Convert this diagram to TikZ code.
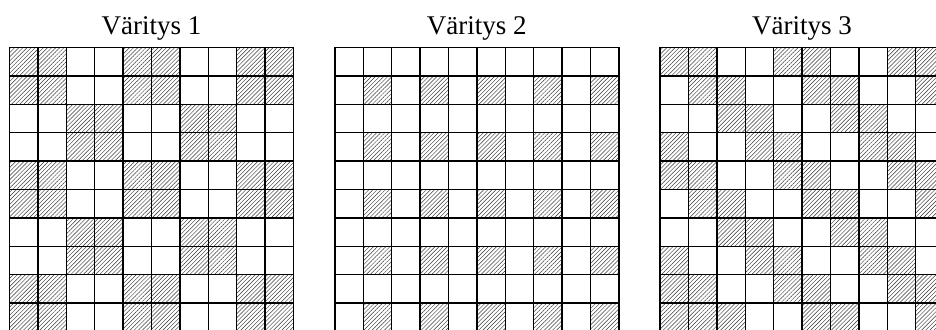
\documentclass[tikz,border=0pt]{standalone}
\usepackage{fontspec}
\setmainfont{Liberation Serif}
\usetikzlibrary{patterns.meta}
\begin{document}
\begin{tikzpicture}[x=1pt,y=-1pt,
  hatch/.style={pattern={Lines[angle=45,distance=2.9pt,line width=0.45pt]},pattern color=black!80},
  gridline/.style={line width=1.4pt,black},
  title/.style={anchor=base,inner sep=0pt,font=\fontsize{27}{30}\selectfont}]
\useasboundingbox (0,0) rectangle (936,329);
\clip (0,0) rectangle (936,329);
\def\cs{28.4}
\def\T{47.5}
\def\La{9.5}
\def\Lb{334.8}
\def\Lc{660.1}
% hatched cells
\foreach \r in {0,...,9}{
  \foreach \c in {0,...,9}{
    \pgfmathtruncatemacro{\ha}{mod(floor(\r/2)+floor(\c/2),2)==0}
    \pgfmathtruncatemacro{\hb}{and(mod(\r,2)==1,mod(\c,2)==1)}
    \pgfmathtruncatemacro{\hc}{mod(\c-\r+8,4)<2}
    \ifnum\ha=1 \fill[hatch] ({\La+\c*\cs},{\T+\r*\cs}) rectangle ++(\cs,\cs); \fi
    \ifnum\hb=1 \fill[hatch] ({\Lb+\c*\cs},{\T+\r*\cs}) rectangle ++(\cs,\cs); \fi
    \ifnum\hc=1 \fill[hatch] ({\Lc+\c*\cs},{\T+\r*\cs}) rectangle ++(\cs,\cs); \fi
  }
}
% grid lines
\foreach \L in {\La,\Lb,\Lc}{
  \foreach \i in {0,...,10}{
    \draw[gridline] ({\L+\i*\cs},\T) -- ({\L+\i*\cs},{\T+10*\cs});
    \draw[gridline] (\L,{\T+\i*\cs}) -- ({\L+10*\cs},{\T+\i*\cs});
  }
}
% titles
\node[title] (t1) at ({\La+5*\cs},35) {Väritys 1};
\node[title] (t2) at ({\Lb+5*\cs},35) {Väritys 2};
\node[title] (t3) at ({\Lc+5*\cs},35) {Väritys 3};
\end{tikzpicture}
\end{document}
